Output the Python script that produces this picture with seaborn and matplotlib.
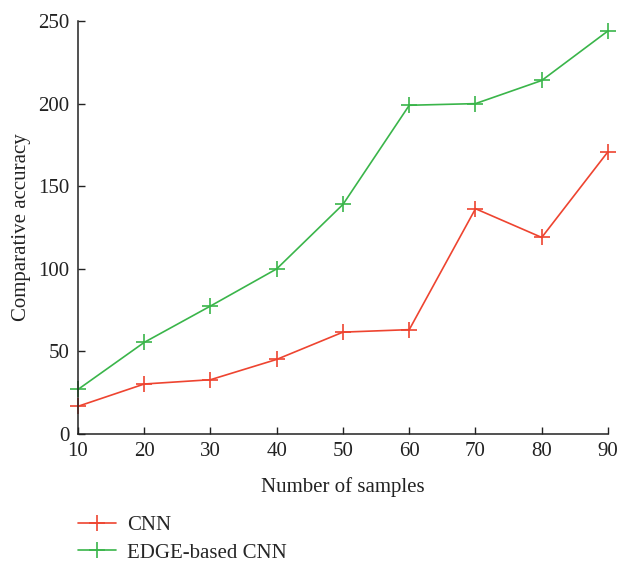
import pandas as pd
import seaborn as sns
import matplotlib.pyplot as plt

samples = [10, 20, 30, 40, 50, 60, 70, 80, 90]
cnn = [16.8, 30.3, 32.9, 45.2, 61.7, 63.2, 136.4, 119.0, 170.9]
edge_cnn = [27.0, 55.5, 77.5, 100.0, 139.0, 199.0, 200.0, 214.0, 244.0]
series_names = ["CNN", "EDGE-based CNN"]
colors = ["#ee4430", "#3ab54a"]

df = pd.DataFrame({
    "samples": samples * 2,
    "accuracy": cnn + edge_cnn,
    "method": [series_names[0]] * len(samples) + [series_names[1]] * len(samples),
})

sns.set_style("ticks")
plt.rcParams["font.family"] = ["Liberation Serif", "DejaVu Serif"]

fig = plt.figure(figsize=(6.17, 5.63), dpi=100)
ax = fig.add_axes([0.1264, 0.229, 0.859, 0.7337])

sns.lineplot(data=df, x="samples", y="accuracy", hue="method",
             palette=dict(zip(series_names, colors)), marker="+",
             markersize=11, markeredgewidth=1.2, linewidth=1.2, ax=ax)

# seaborn draws marker edges white by default; give the crosses the line colour
for line in ax.lines:
    line.set_markeredgecolor(line.get_color())
    line.set_clip_on(False)

ax.set_xlim(10, 90)
ax.set_ylim(0, 250)
ax.set_xticks(samples)
ax.set_yticks([0, 50, 100, 150, 200, 250])
ax.tick_params(direction="in", length=5, width=1, labelsize=15, colors="#222222", pad=6)
sns.despine(ax=ax)
for s in ["left", "bottom"]:
    ax.spines[s].set_linewidth(1.1)
    ax.spines[s].set_color("#222222")

ax.set_xlabel("Number of samples", fontsize=15, color="#222222", labelpad=11)
ax.set_ylabel("Comparative accuracy", fontsize=15, color="#222222", labelpad=5)

handles, labels = ax.get_legend_handles_labels()
ax.get_legend().remove()
leg = fig.legend(handles, labels, loc="upper left", bbox_to_anchor=(0.127, 0.084),
                 frameon=False, fontsize=15, handlelength=1.8, handletextpad=0.55,
                 labelspacing=0.38, borderaxespad=0, borderpad=0)
for h in leg.legend_handles:
    h.set_markeredgecolor(h.get_color())

fig.savefig("out.png", dpi=100, facecolor="white")
